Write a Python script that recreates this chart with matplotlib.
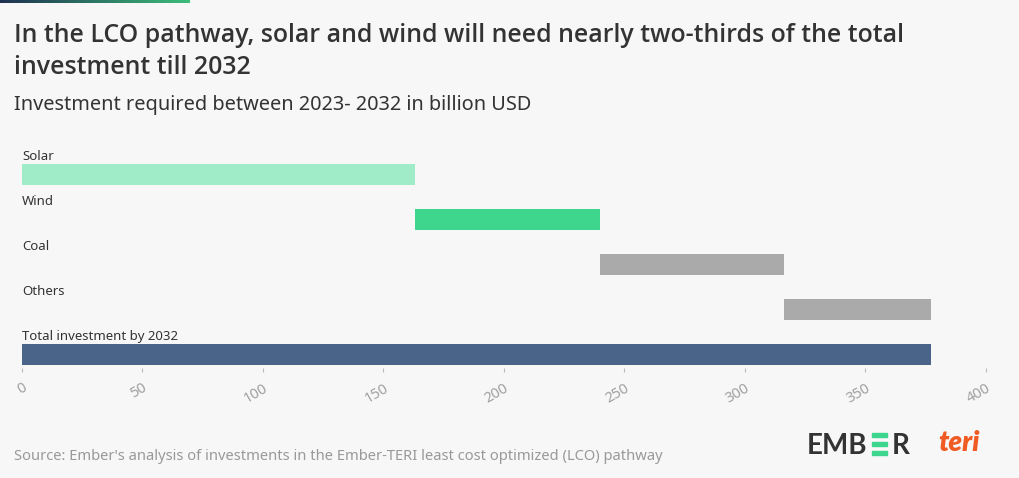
import matplotlib.pyplot as plt
import matplotlib.patches as mpatches
import numpy as np

# data (billion USD, 2023-2032)
categories = ["Solar", "Wind", "Coal", "Others", "Total investment by 2032"]
values = [163, 77, 76, 61, 377]
colors = ["#a0ebc8", "#3dd68c", "#aaaaaa", "#aaaaaa", "#4a6389"]
xticks = [0, 50, 100, 150, 200, 250, 300, 350, 400]

W, H = 1020, 478
bg = "#f7f7f7"
plt.rcParams['font.family'] = ['Noto Sans', 'DejaVu Sans']

fig = plt.figure(figsize=(W / 100, H / 100), dpi=100, facecolor=bg)

# waterfall: each step starts where the previous one ended, total starts at 0
lefts = []
run = 0
for i, v in enumerate(values):
    if i == len(values) - 1:
        lefts.append(0)
    else:
        lefts.append(run)
        run += v

# axes placed in pixels: x 22..986, y 145..368 (top to bottom)
ax_top, ax_bot = 145, 368
ax = fig.add_axes([22 / W, 1 - ax_bot / H, (986 - 22) / W, (ax_bot - ax_top) / H])
ax.set_facecolor(bg)
pitch = 45.0
ypos = np.arange(len(categories))
ax.barh(ypos, values, left=lefts, height=21 / pitch, color=colors)
ax.set_xlim(0, 400)
ax.set_ylim((ax_bot - 174.5) / pitch, (ax_top - 174.5) / pitch)

for i, name in enumerate(categories):
    ax.text(0, i - 18 / pitch, name, fontsize=9.5, color="#333333",
            va="center", ha="left")

for s in ax.spines.values():
    s.set_visible(False)
ax.set_yticks([])
ax.set_xticks(xticks)
ax.set_xticklabels([str(t) for t in xticks], rotation=30, ha="right",
                   rotation_mode="anchor", fontsize=10.5, color="#a0a0a0")
ax.tick_params(axis="x", length=3, width=0.8, color="#bbbbbb", pad=6)

# gradient strip at top-left
grad = fig.add_axes([0, 1 - 3 / H, 190 / W, 3 / H])
grad.imshow(np.linspace(0, 1, 256).reshape(1, -1), aspect="auto",
            cmap=plt.matplotlib.colors.LinearSegmentedColormap.from_list(
                "g", ["#1e3150", "#3dbd7a"]))
grad.axis("off")

title_font = ['Open Sans', 'DejaVu Sans']
fig.text(14 / W, 1 - 35 / H, "In the LCO pathway, solar and wind will need nearly two-thirds of the total",
         fontsize=17.9, weight="semibold", family=title_font, color="#333333", va="center")
fig.text(14 / W, 1 - 67 / H, "investment till 2032",
         fontsize=17.9, weight="semibold", family=title_font, color="#333333", va="center")
fig.text(14 / W, 1 - 105 / H, "Investment required between 2023- 2032 in billion USD",
         fontsize=14.35, color="#333333", va="center")
fig.text(14 / W, 1 - 456 / H,
         "Source: Ember's analysis of investments in the Ember-TERI least cost optimized (LCO) pathway",
         fontsize=10.6, color="#999999", va="center")

# logos drawn as text
logo_font = ['Lato', 'DejaVu Sans']
fig.text(807 / W, 1 - 446 / H, "EMB", fontsize=20, weight="bold", family=logo_font,
         color="#333333", va="center", ha="left")
for k in range(3):
    fig.patches.append(mpatches.Rectangle((872 / W, 1 - (437 + k * 9) / H), 15 / W, 4 / H,
                                          transform=fig.transFigure, color="#3dd68c"))
fig.text(892 / W, 1 - 446 / H, "R", fontsize=20, weight="bold", family=logo_font,
         color="#333333", va="center", ha="left")
fig.text(938 / W, 1 - 443 / H, "teri", fontsize=20, weight="heavy", style="italic",
         family=logo_font, color="#f05a23", va="center", ha="left")

fig.savefig("out.png", dpi=100, facecolor=bg)
